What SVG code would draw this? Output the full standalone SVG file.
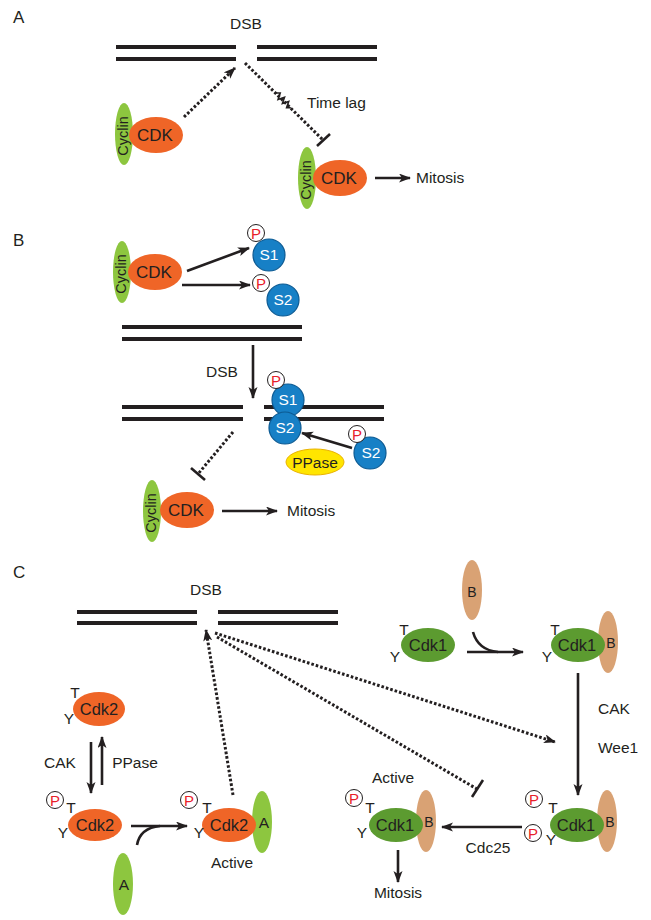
<svg xmlns="http://www.w3.org/2000/svg" width="651" height="920" viewBox="0 0 651 920">
<defs>
<style>
text{font-family:"Liberation Sans",Arial,Helvetica,sans-serif;fill:#231F20}
.l{font-size:15.5px}
.m{text-anchor:middle}
.k{font-size:17px;text-anchor:middle}
.k2{font-size:16.5px;text-anchor:middle}
.pan{font-size:17px}
.cy{font-size:14.5px;text-anchor:middle}
.tl{font-size:15.5px;text-anchor:middle}
.dna{stroke:#231F20;stroke-width:4;fill:none}
.ar{stroke:#231F20;stroke-width:2.6;fill:none}
.dot{stroke:#231F20;stroke-width:3;fill:none;stroke-dasharray:2.6 2}
.cdk{fill:#EF6527}
.cyc{fill:#8DC63F}
.cdk1{fill:#5C9B30}
.bcy{fill:#D9A274}
.s{fill:#1780C6;stroke:#0C5A93;stroke-width:1.2}
.st{font-size:15.5px;fill:#fff;text-anchor:middle}
.pc{fill:#fff;stroke:#231F20;stroke-width:1}
.pt{font-size:15px;fill:#E8202A;text-anchor:middle}
.pp{fill:#FFE500;stroke:#E9B200;stroke-width:1}
</style>
<marker id="ah" markerUnits="userSpaceOnUse" markerWidth="14" markerHeight="10" refX="11" refY="4.5" orient="auto"><path d="M0,0 L12,4.5 L0,9 L3,4.5 z" fill="#231F20"/></marker>
</defs>
<rect width="651" height="920" fill="#fff"/>

<text class="pan" x="13" y="23">A</text>
<text class="pan" x="13" y="246">B</text>
<text class="pan" x="13" y="578">C</text>

<!-- ===== Panel A ===== -->
<g id="A-dna">
<path class="dna" d="M116,47H236M116,59H236M257,47H377M257,59H377"/>
<text class="l m" x="246" y="29">DSB</text>
</g>
<g id="A-cyclincdk1">
<ellipse class="cyc" cx="124" cy="134" rx="9" ry="31"/>
<ellipse class="cdk" cx="156" cy="135" rx="27" ry="18"/>
<text class="cy" transform="translate(128,136) rotate(-90)">Cyclin</text>
<text class="k" x="155" y="141">CDK</text>
</g>
<g id="A-cyclincdk2">
<ellipse class="cyc" cx="307" cy="178" rx="9" ry="31"/>
<ellipse class="cdk" cx="340" cy="178" rx="27" ry="18"/>
<text class="cy" transform="translate(311,180) rotate(-90)">Cyclin</text>
<text class="k" x="339" y="184">CDK</text>
</g>
<g id="A-mitosis"><text class="l" x="416" y="183">Mitosis</text></g>
<g id="A-timelag"><text class="l" x="307" y="108">Time lag</text></g>

<!-- ===== Panel B ===== -->
<g id="B-cyclincdk1">
<ellipse class="cyc" cx="122" cy="272" rx="9" ry="31"/>
<ellipse class="cdk" cx="155" cy="272" rx="27" ry="18"/>
<text class="cy" transform="translate(126,274) rotate(-90)">Cyclin</text>
<text class="k" x="154" y="278">CDK</text>
</g>
<g id="B-S1a">
<circle class="s" cx="269" cy="255" r="16"/>
<text class="st" x="269" y="260">S1</text>
<circle class="pc" cx="256" cy="233" r="8.5"/>
<text class="pt" x="256" y="238.5">P</text>
</g>
<g id="B-S2a">
<circle class="s" cx="283" cy="300" r="16"/>
<text class="st" x="283" y="305">S2</text>
<circle class="pc" cx="261" cy="283" r="8.5"/>
<text class="pt" x="261" y="288.5">P</text>
</g>
<g id="B-dna1"><path class="dna" d="M122,327H302M122,339H302"/></g>
<g id="B-dna2">
<path class="dna" d="M122,407H243M122,419H243M264,407H384M264,419H384"/>
</g>
<text class="l m" x="222" y="377">DSB</text>
<g id="B-S1b">
<circle class="s" cx="288" cy="400" r="16"/>
<text class="st" x="288" y="405">S1</text>
<circle class="pc" cx="276" cy="380" r="8.5"/>
<text class="pt" x="276" y="385.5">P</text>
</g>
<g id="B-S2b">
<circle class="s" cx="285" cy="428" r="16"/>
<text class="st" x="285" y="433">S2</text>
</g>
<g id="B-S2c">
<circle class="s" cx="370" cy="453" r="16"/>
<text class="st" x="371" y="458">S2</text>
<circle class="pc" cx="357" cy="434" r="8.5"/>
<text class="pt" x="357" y="439.5">P</text>
</g>
<g id="B-ppase">
<ellipse class="pp" cx="315" cy="462" rx="29" ry="13"/>
<text class="l m" x="315" y="468">PPase</text>
</g>
<g id="B-cyclincdk2">
<ellipse class="cyc" cx="152" cy="511" rx="9" ry="31"/>
<ellipse class="cdk" cx="187" cy="510" rx="27" ry="18"/>
<text class="cy" transform="translate(156,513) rotate(-90)">Cyclin</text>
<text class="k" x="186" y="516">CDK</text>
</g>
<g id="B-mitosis"><text class="l" x="287" y="516">Mitosis</text></g>

<!-- ===== Panel C ===== -->
<g id="C-dna">
<path class="dna" d="M77,612H197M77,623H197M218,612H338M218,623H338"/>
<text class="l m" x="206" y="595">DSB</text>
</g>
<g id="C-cdk2-top">
<ellipse class="cdk" cx="99" cy="709" rx="26" ry="17"/>
<text class="k2" x="99" y="715">Cdk2</text>
<text class="tl" x="75" y="698">T</text>
<text class="tl" x="69" y="724">Y</text>
</g>
<text class="l m" x="60" y="768">CAK</text>
<text class="l m" x="135" y="768">PPase</text>
<g id="C-cdk2-mid">
<ellipse class="cdk" cx="95" cy="825" rx="27" ry="16"/>
<text class="k2" x="95" y="831">Cdk2</text>
<circle class="pc" cx="55" cy="800" r="8.5"/>
<text class="pt" x="55" y="805.5">P</text>
<text class="tl" x="71" y="813">T</text>
<text class="tl" x="63" y="838">Y</text>
</g>
<g id="C-cyclinA">
<ellipse class="cyc" cx="123" cy="884" rx="10" ry="31"/>
<text class="l m" x="124" y="890">A</text>
</g>
<g id="C-cdk2-active">
<ellipse class="cyc" cx="262" cy="822" rx="10" ry="31"/>
<ellipse class="cdk" cx="229" cy="825" rx="27" ry="17"/>
<text class="k2" x="229" y="831">Cdk2</text>
<text class="l m" x="264" y="828">A</text>
<circle class="pc" cx="189" cy="800" r="8.5"/>
<text class="pt" x="189" y="805.5">P</text>
<text class="tl" x="207" y="813">T</text>
<text class="tl" x="199" y="838">Y</text>
<text class="l m" x="232" y="868">Active</text>
</g>
<g id="C-cyclinB">
<ellipse class="bcy" cx="472" cy="590" rx="10" ry="30"/>
<text class="m" font-size="14" x="472" y="597">B</text>
</g>
<g id="C-cdk1-a">
<ellipse class="cdk1" cx="428" cy="645" rx="27" ry="17"/>
<text class="k2" x="428" y="651">Cdk1</text>
<text class="tl" x="404" y="635">T</text>
<text class="tl" x="395" y="662">Y</text>
</g>
<g id="C-cdk1-b">
<ellipse class="bcy" cx="608" cy="642" rx="10" ry="31"/>
<ellipse class="cdk1" cx="578" cy="645" rx="27" ry="17"/>
<text class="k2" x="577" y="651">Cdk1</text>
<text class="m" font-size="14" x="611" y="648">B</text>
<text class="tl" x="555" y="635">T</text>
<text class="tl" x="547" y="662">Y</text>
</g>
<text class="l" x="598" y="714">CAK</text>
<text class="l" x="598" y="753">Wee1</text>
<g id="C-cdk1-c">
<ellipse class="bcy" cx="607" cy="821" rx="10" ry="31"/>
<ellipse class="cdk1" cx="577" cy="825" rx="27" ry="17"/>
<text class="k2" x="576" y="831">Cdk1</text>
<text class="m" font-size="14" x="610" y="827">B</text>
<circle class="pc" cx="534" cy="799" r="8.5"/>
<text class="pt" x="534" y="804.5">P</text>
<text class="tl" x="553" y="813">T</text>
<circle class="pc" cx="533" cy="833" r="8.5"/>
<text class="pt" x="533" y="838.5">P</text>
<text class="tl" x="551" y="845">Y</text>
</g>
<text class="l m" x="488" y="853">Cdc25</text>
<g id="C-cdk1-d">
<ellipse class="bcy" cx="426" cy="821" rx="10" ry="31"/>
<ellipse class="cdk1" cx="396" cy="825" rx="27" ry="17"/>
<text class="k2" x="395" y="831">Cdk1</text>
<text class="m" font-size="14" x="429" y="827">B</text>
<circle class="pc" cx="354" cy="798" r="8.5"/>
<text class="pt" x="354" y="803.5">P</text>
<text class="tl" x="370" y="813">T</text>
<text class="tl" x="362" y="838">Y</text>
<text class="l m" x="393" y="783">Active</text>
</g>
<g id="C-mitosis"><text class="l m" x="398" y="898">Mitosis</text></g>

<!-- ===== Connectors ===== -->
<g id="connectors">
<path class="dot" d="M184,117L235,68" marker-end="url(#ah)"/>
<path class="dot" d="M245,63L323,140"/>
<path class="ar" d="M317,146L330,134"/>
<polyline fill="none" stroke="#231F20" stroke-width="1.6" points="276,93 280.2,93 278.1,99.4 284.5,97.2 282.4,103.6 288.7,101.5 286.6,107.8 290.8,107.8"/>
<path class="ar" d="M375,178H410" marker-end="url(#ah)"/>
<path class="ar" d="M187,271L249,248" marker-end="url(#ah)"/>
<path class="ar" d="M182,285H250" marker-end="url(#ah)"/>
<path class="ar" d="M253,345V398" marker-end="url(#ah)"/>
<path class="ar" d="M352,448L302,433" marker-end="url(#ah)"/>
<path class="dot" d="M233,432L198,474"/>
<path class="ar" d="M191,468L205,480"/>
<path class="ar" d="M222,511H277" marker-end="url(#ah)"/>
<path class="dot" d="M233,795L206,630" marker-end="url(#ah)"/>
<path class="dot" d="M215,633L555,742" marker-end="url(#ah)"/>
<path class="dot" d="M217,637L477,789"/>
<path class="ar" d="M472,797L483,780"/>
<path class="ar" d="M91,742V793" marker-end="url(#ah)"/>
<path class="ar" d="M102,785V737" marker-end="url(#ah)"/>
<path class="ar" d="M131,826H187" marker-end="url(#ah)"/>
<path class="ar" d="M137,845Q140,828 160,826"/>
<path class="ar" d="M467,652H523" marker-end="url(#ah)"/>
<path class="ar" d="M473,632Q478,650 498,652"/>
<path class="ar" d="M578,673V795" marker-end="url(#ah)"/>
<path class="ar" d="M522,827H442" marker-end="url(#ah)"/>
<path class="ar" d="M398,850V882" marker-end="url(#ah)"/>
</g>
</svg>
